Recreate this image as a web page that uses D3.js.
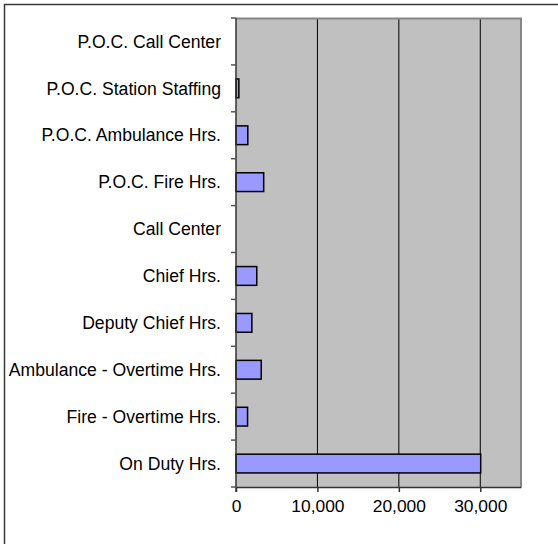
<!DOCTYPE html>
<html>
<head>
<meta charset="utf-8">
<script src="https://cdn.jsdelivr.net/npm/d3@7"></script>
<style>
  body { margin: 0; background: #fff; }
  svg text { font-family: "Liberation Sans", Arial, sans-serif; fill: #000; }
</style>
</head>
<body>
<div class="chart-container"></div>
<script>
// chart data, top row first
const categories = [
    "P.O.C. Call Center",
    "P.O.C. Station Staffing",
    "P.O.C. Ambulance Hrs.",
    "P.O.C. Fire Hrs.",
    "Call Center",
    "Chief Hrs.",
    "Deputy Chief Hrs.",
    "Ambulance - Overtime Hrs.",
    "Fire - Overtime Hrs.",
    "On Duty Hrs."
];
const hours = [0, 350, 1450, 3400, 0, 2550, 1950, 3100, 1420, 30050];
const xTicks = [0, 10000, 20000, 30000];
const xMax = 35000;

function drawChart() {
    const W = 558, H = 544;
    const margin = {top: 18, right: 37, bottom: 57, left: 236},
        width = W - margin.left - margin.right,
        height = H - margin.top - margin.bottom;

    const root = d3.select(".chart-container")
        .append("svg")
        .attr("width", W)
        .attr("height", H);

    // outer chart frame (runs off the right / bottom edge)
    root.append("rect")
        .attr("x", 4.5).attr("y", 4.5)
        .attr("width", W + 10).attr("height", H + 10)
        .attr("fill", "none")
        .attr("stroke", "#3a3a3a")
        .attr("stroke-width", 1.5);

    const svg = root.append("g")
        .attr("transform", `translate(${margin.left},${margin.top})`);

    const data = categories.map((c, i) => ({name: c, value: hours[i]}));

    const x = d3.scaleLinear().domain([0, xMax]).range([0, width]);
    const y = d3.scaleBand()
        .domain(categories)
        .range([0, height])
        .paddingInner(0.6)
        .paddingOuter(0.3);
    const step = y.step();

    // plot background
    svg.append("rect")
        .attr("width", width).attr("height", height)
        .attr("fill", "#c0c0c0");

    // gridlines
    svg.selectAll(".grid")
        .data(xTicks.filter(d => d > 0))
        .enter().append("line")
        .attr("class", "grid")
        .attr("x1", d => x(d)).attr("x2", d => x(d))
        .attr("y1", 0).attr("y2", height)
        .attr("stroke", "#000").attr("stroke-width", 1);

    // plot border top / right
    svg.append("path")
        .attr("d", `M0,0.5H${width}V${height}`)
        .attr("fill", "none")
        .attr("stroke", "#868686")
        .attr("stroke-width", 2);

    // bars
    svg.selectAll(".bar")
        .data(data.filter(d => d.value > 0))
        .enter().append("rect")
        .attr("class", "bar")
        .attr("x", x(0))
        .attr("y", d => y(d.name))
        .attr("width", d => x(d.value) - x(0))
        .attr("height", y.bandwidth())
        .attr("fill", "#9999ff")
        .attr("stroke", "#000")
        .attr("stroke-width", 1.5);

    // y axis: line, ticks on band boundaries, labels
    svg.append("line")
        .attr("x1", 0).attr("x2", 0)
        .attr("y1", 0).attr("y2", height + 5)
        .attr("stroke", "#333").attr("stroke-width", 1.5);

    svg.selectAll(".ytick")
        .data(d3.range(categories.length + 1))
        .enter().append("line")
        .attr("class", "ytick")
        .attr("x1", -5).attr("x2", 0)
        .attr("y1", i => i * step).attr("y2", i => i * step)
        .attr("stroke", "#555").attr("stroke-width", 1.5);

    svg.selectAll(".ylabel")
        .data(categories)
        .enter().append("text")
        .attr("class", "ylabel")
        .attr("x", -15)
        .attr("y", d => y(d) + y.bandwidth() / 2)
        .attr("dy", "0.35em")
        .attr("text-anchor", "end")
        .style("font-size", "17.6px")
        .text(d => d);

    // x axis
    const xAxis = svg.append("g")
        .attr("transform", `translate(0,${height})`)
        .call(d3.axisBottom(x)
            .tickValues(xTicks)
            .tickSize(5)
            .tickSizeOuter(0)
            .tickPadding(8)
            .tickFormat(d3.format(",")));
    xAxis.select(".domain").attr("stroke", "#333").attr("stroke-width", 1.5);
    xAxis.selectAll(".tick line").attr("stroke", "#333").attr("stroke-width", 1.5);
    xAxis.selectAll(".tick text")
        .style("font-size", "17.4px")
        .style("font-family", "'Liberation Sans', Arial, sans-serif")
        .attr("fill", "#000");
}

drawChart();
</script>
</body>
</html>
